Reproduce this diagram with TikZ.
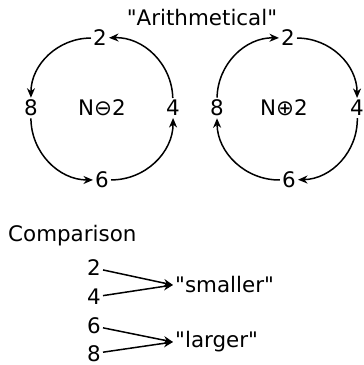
\documentclass[tikz,border=0pt]{standalone}
\usepackage{fontspec}
\setmainfont{DejaVu Sans}
\usetikzlibrary{arrows.meta}
\begin{document}
\begin{tikzpicture}[x=1bp,y=1bp,
  lbl/.style={inner sep=2bp,font=\fontsize{21.5}{25}\selectfont},
  arr/.style={-{Stealth[length=9.5bp,width=8bp,inset=3bp]},line width=1.5bp}]
\useasboundingbox (0,0) rectangle (364,365);
\node[lbl] (title) at (202,347) {\textquotedbl Arithmetical\textquotedbl};
% left circle
\node[lbl] (L2) at (100,327) {2};
\node[lbl] (L8) at (31,257) {8};
\node[lbl] (L4) at (173,257) {4};
\node[lbl] (L6) at (102,185) {6};
\node[lbl] (Lc) at (102,257) {N⊖2};
\draw[arr] (L2) to[bend right=45] (L8);
\draw[arr] (L8) to[bend right=45] (L6);
\draw[arr] (L6) to[bend right=45] (L4);
\draw[arr] (L4) to[bend right=45] (L2);
% right circle
\node[lbl] (R2) at (288,327) {2};
\node[lbl] (R8) at (217,257) {8};
\node[lbl] (R4) at (357,257) {4};
\node[lbl] (R6) at (289,185) {6};
\node[lbl] (Rc) at (284,257) {N⊕2};
\draw[arr] (R2) to[bend left=45] (R4);
\draw[arr] (R4) to[bend left=45] (R6);
\draw[arr] (R6) to[bend left=45] (R8);
\draw[arr] (R8) to[bend left=45] (R2);
% comparison
\node[lbl,anchor=west,inner sep=0] (cmp) at (8,129) {Comparison};
\node[lbl] (C2) at (94,97) {2};
\node[lbl] (C4) at (94,68) {4};
\node[lbl] (C6) at (94,39) {6};
\node[lbl] (C8) at (94,11.5) {8};
\node[lbl,anchor=west] (sm) at (173,80) {\textquotedbl smaller\textquotedbl};
\node[lbl,anchor=west] (lg) at (173,23) {\textquotedbl larger\textquotedbl};
\draw[arr] (C2) -- (sm.west);
\draw[arr] (C4) -- (sm.west);
\draw[arr] (C6) -- (lg.west);
\draw[arr] (C8) -- (lg.west);
\end{tikzpicture}
\end{document}
